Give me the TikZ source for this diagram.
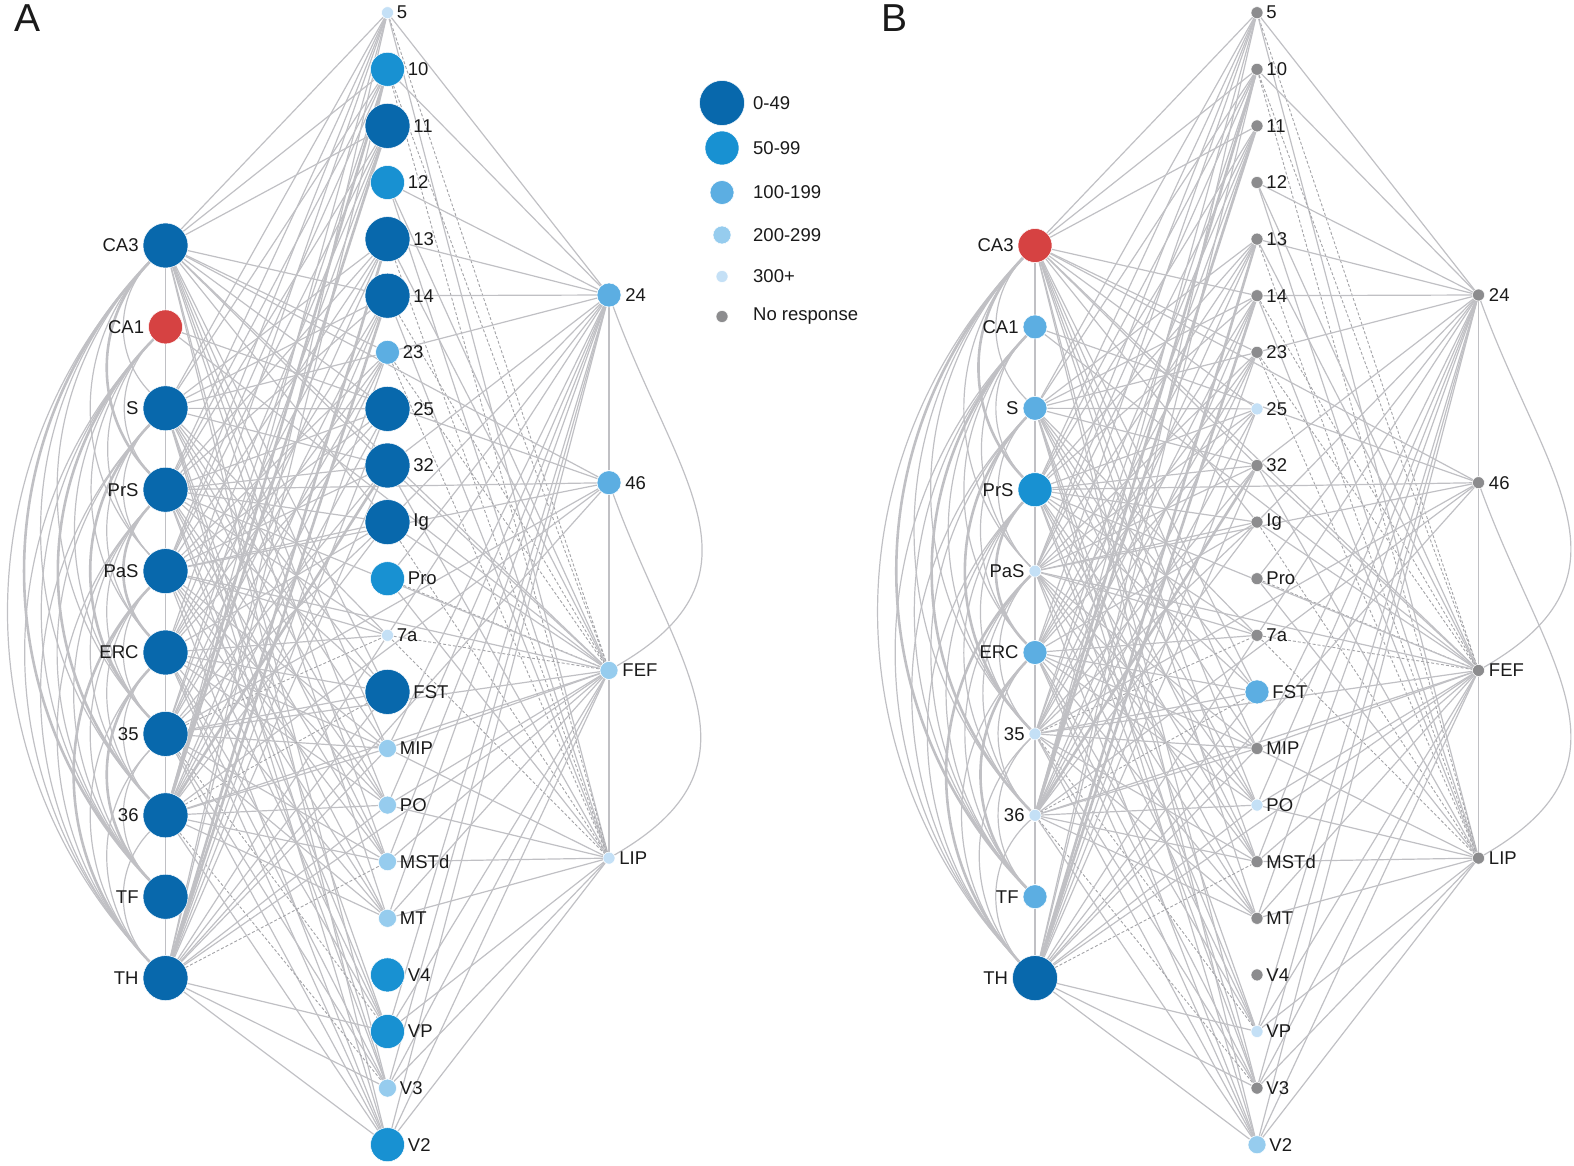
\documentclass[tikz,border=0pt]{standalone}
\usepackage{fontspec}
\newfontfamily\arial{Liberation Sans}
\definecolor{k0}{HTML}{0868AC}
\definecolor{k1}{HTML}{1891D2}
\definecolor{k2}{HTML}{5CAEE2}
\definecolor{k3}{HTML}{96CCEE}
\definecolor{k4}{HTML}{C4E0F6}
\definecolor{kn}{HTML}{8C8C8E}
\definecolor{kr}{HTML}{D64242}
\definecolor{eg}{HTML}{C0C0C4}
\definecolor{txt}{HTML}{1A1A1A}
\pgfdeclarelayer{bg}\pgfsetlayers{bg,main}
\tikzset{
 dot/.style={circle,inner sep=0pt,draw=white,line width=0.5pt},
 c0/.style={dot,fill=k0,minimum size=45pt},
 c1/.style={dot,fill=k1,minimum size=34pt},
 c2/.style={dot,fill=k2,minimum size=24pt},
 c3/.style={dot,fill=k3,minimum size=18pt},
 c4/.style={dot,fill=k4,minimum size=12pt},
 cn/.style={dot,fill=kn,minimum size=12pt},
 cr/.style={dot,fill=kr,minimum size=34pt},
 lab/.style={font=\arial\fontsize{18.5}{20}\selectfont,inner sep=0pt,text=txt},
 panlab/.style={font=\arial\fontsize{39}{40}\selectfont,inner sep=0pt,text=txt,anchor=base west},
 edge/.style={draw=eg,line width=1.2pt},
 thk/.style={draw=eg,line width=2.6pt},
 dsh/.style={draw=eg!85!black,line width=0.9pt,dash pattern=on 3pt off 2pt},
}
\newcommand\leftcol[3]{%
 \foreach \lab/\st [count=\i] in {#3}
   \node[\st,label={[lab,label distance=4pt]left:\lab}] (#1L\i) at (#2,{245.5+81.4*(\i-1)}) {};
}
\newcommand\midcol[3]{%
 \foreach \lab/\st [count=\i] in {#3}
   \node[\st,label={[lab,label distance=3pt]right:\lab}] (#1M\i) at (#2,{12.7+56.6*(\i-1)}) {};
}
\newcommand\rightcol[3]{%
 \foreach \lab/\st [count=\i] in {#3}
   \node[\st,label={[lab,label distance=4pt]right:\lab}] (#1R\i) at (#2,{295+187.7*(\i-1)}) {};
}
\newcommand\alledges[1]{%
 \foreach \i in {1,...,9}{\pgfmathtruncatemacro\n{\i+1}\draw[edge] (#1L\i) -- (#1L\n);}
 \foreach \i in {1,...,8}{%
   \pgfmathtruncatemacro\s{\i+2}%
   \foreach \j in {\s,...,10}{%
     \pgfmathtruncatemacro\h{mod(\i*\j+2*\j+\i,4)}%
     \pgfmathtruncatemacro\t{mod(\i+\j,5)}%
     \ifnum\j>8 \def\h{0}\fi
     \def\es{edge}%
     \ifnum\t=0 \def\es{thk}\fi
     \ifnum\h<3 \draw[\es] (#1L\i) to[bend right=44] (#1L\j);\fi
   }}
 \foreach \i in {1,...,10}{\foreach \j in {1,...,21}{%
   \pgfmathtruncatemacro\h{mod(\i*3+\j*5+\i*\j,7)}%
   \def\es{edge}%
   \ifnum\h=4 \ifnum\i>6 \ifnum\j>11 \def\es{dsh}\fi\fi\fi
   \ifnum\h<2 \ifnum\i>7 \ifnum\j<10 \def\es{thk}\fi\fi\fi
   \ifnum\h<5 \draw[\es] (#1L\i) -- (#1M\j);\fi}}
 \foreach \j in {1,...,21}{\foreach \k in {1,...,4}{%
   \pgfmathtruncatemacro\h{mod(\j*3+\k*7+\j*\k,5)}%
   \def\es{edge}%
   \ifnum\h>1 \ifnum\k>2 \ifnum\j<14 \def\es{dsh}\fi\fi\fi
   \ifnum\h<4 \draw[\es] (#1M\j) -- (#1R\k);\fi}}
 \foreach \i in {1,...,10}{\foreach \k in {1,...,4}{%
   \pgfmathtruncatemacro\h{mod(\i*2+\k*3+\i*\k,3)}%
   \ifnum\h>0 \draw[edge] (#1L\i) -- (#1R\k);\fi}}
 \draw[edge] (#1R1) -- (#1R2);
 \draw[edge] (#1R2) -- (#1R3);
 \draw[edge] (#1R3) -- (#1R4);
 \draw[edge] (#1R1) to[out=-70,in=30,looseness=1.3] (#1R3);
 \draw[edge] (#1R2) to[out=-70,in=30,looseness=1.3] (#1R4);
}
\begin{document}
\begin{tikzpicture}[x=1pt,y=-1pt]
\useasboundingbox (0,0) rectangle (1574,1166);
% panel labels
\node[panlab] (pA) at (14,32) {A};
\node[panlab] (pB) at (881,32) {B};
% panel A
\leftcol{a}{165.5}{CA3/c0,CA1/cr,S/c0,PrS/c0,PaS/c0,ERC/c0,35/c0,36/c0,TF/c0,TH/c0}
\midcol{a}{387.5}{5/c4,10/c1,11/c0,12/c1,13/c0,14/c0,23/c2,25/c0,32/c0,Ig/c0,Pro/c1,7a/c4,FST/c0,MIP/c3,PO/c3,MSTd/c3,MT/c3,V4/c1,VP/c1,V3/c3,V2/c1}
\rightcol{a}{609}{24/c2,46/c2,FEF/c3,LIP/c4}
% panel B
\leftcol{b}{1035}{CA3/cr,CA1/c2,S/c2,PrS/c1,PaS/c4,ERC/c2,35/c4,36/c4,TF/c2,TH/c0}
\midcol{b}{1257}{5/cn,10/cn,11/cn,12/cn,13/cn,14/cn,23/cn,25/c4,32/cn,Ig/cn,Pro/cn,7a/cn,FST/c2,MIP/cn,PO/c4,MSTd/cn,MT/cn,V4/cn,VP/c4,V3/cn,V2/c3}
\rightcol{b}{1478.5}{24/cn,46/cn,FEF/cn,LIP/cn}
% legend
\node[c0] (lg1) at (722,103) {};
\node[c1] (lg2) at (722,148) {};
\node[c2] (lg3) at (722,192.5) {};
\node[c3] (lg4) at (722,235) {};
\node[c4] (lg5) at (722,276.5) {};
\node[cn] (lg6) at (722,316.5) {};
\node[lab,anchor=west] (lt1) at (753,103) {0-49};
\node[lab,anchor=west] (lt2) at (753,148) {50-99};
\node[lab,anchor=west] (lt3) at (753,192.5) {100-199};
\node[lab,anchor=west] (lt4) at (753,235) {200-299};
\node[lab,anchor=west] (lt5) at (753,276.5) {300+};
\node[lab,anchor=west] (lt6) at (753,316.5) {No response};
\begin{pgfonlayer}{bg}
\alledges{a}
\alledges{b}
\end{pgfonlayer}
\end{tikzpicture}
\end{document}
